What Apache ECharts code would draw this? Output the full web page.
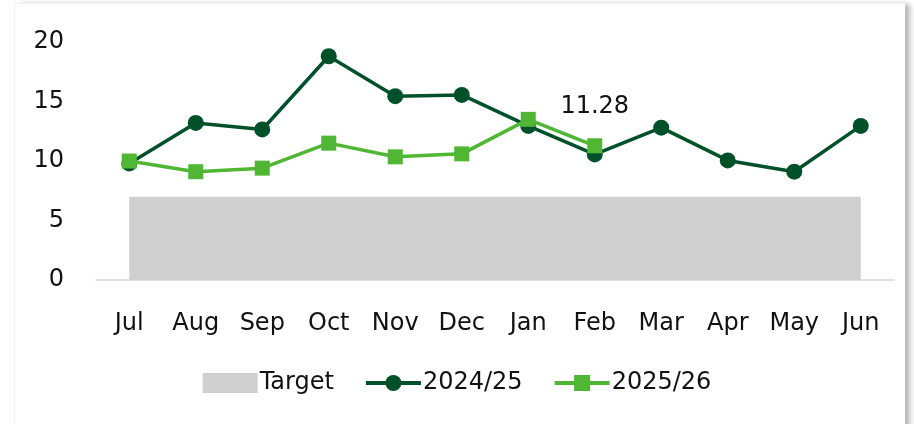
<!DOCTYPE html>
<html>
<head>
<meta charset="utf-8">
<script src="https://cdn.jsdelivr.net/npm/echarts@6/dist/echarts.min.js"></script>
<style>
  html, body { margin: 0; padding: 0; background: #fff; overflow: hidden; }
  .card {
    position: absolute; left: 14px; top: 3px; width: 890px; height: 440px;
    background: #fff; border-left: 1px solid #f2f2f2; border-top: 1px solid #f2f2f2;
    box-shadow: 6px 0 5px -1px rgba(0, 0, 0, 0.28);
  }
  #chart { position: absolute; left: 0; top: 0; width: 914px; height: 424px; }
</style>
</head>
<body>
<div class="card"></div>
<div id="chart"></div>
<script>
const months = ['Jul', 'Aug', 'Sep', 'Oct', 'Nov', 'Dec', 'Jan', 'Feb', 'Mar', 'Apr', 'May', 'Jun']
const target = [7, 7, 7, 7, 7, 7, 7, 7, 7, 7, 7, 7]
const fy2425 = [9.8, 13.2, 12.65, 18.8, 15.45, 15.55, 12.95, 10.55, 12.8, 10.05, 9.1, 12.95]
const fy2526 = [10.0, 9.1, 9.4, 11.5, 10.35, 10.6, 13.5, 11.28]

const font = '"DejaVu Sans", sans-serif'
const dark = '#00512A'
const light = '#4FB733'
const grey = '#D0CED0'

const chart = echarts.init(document.getElementById('chart'))

chart.setOption({
  animation: false,
  textStyle: { fontFamily: font },
  grid: { left: 96, right: 20, top: 42, bottom: 144 },
  legend: {
    bottom: 24,
    left: 'center',
    itemWidth: 55,
    itemHeight: 20,
    itemGap: 30,
    lineStyle: { width: 4 },
    textStyle: { fontFamily: font, fontSize: 24, color: '#111', padding: [0, 0, 0, -3] },
    data: [
      { name: 'Target', icon: 'rect', itemStyle: { color: grey } },
      { name: '2024/25' },
      { name: '2025/26' }
    ]
  },
  xAxis: {
    type: 'category',
    data: months,
    axisLine: { lineStyle: { color: '#D9D9D9', width: 1.5 } },
    axisTick: { show: false },
    axisLabel: { fontFamily: font, fontSize: 24, color: '#111', margin: 32 }
  },
  yAxis: {
    type: 'value',
    min: 0,
    max: 20,
    interval: 5,
    splitLine: { show: false },
    axisLine: { show: false },
    axisTick: { show: false },
    axisLabel: { fontFamily: font, fontSize: 24, color: '#111', margin: 32 }
  },
  series: [
    {
      name: 'Target',
      type: 'line',
      data: target,
      color: grey,
      symbol: 'none',
      lineStyle: { width: 0 },
      areaStyle: { color: grey, opacity: 1 },
      z: 1
    },
    {
      name: '2024/25',
      type: 'line',
      data: fy2425,
      color: dark,
      symbol: 'circle',
      symbolSize: 16,
      lineStyle: { width: 3.5, color: dark },
      itemStyle: { color: dark },
      z: 3
    },
    {
      name: '2025/26',
      type: 'line',
      data: fy2526.map((v, i) => i === fy2526.length - 1
        ? { value: v, label: { show: true, position: 'top', distance: 20, formatter: '{c}', fontFamily: font, fontSize: 24, color: '#111' } }
        : v),
      color: light,
      symbol: 'rect',
      symbolSize: 15,
      lineStyle: { width: 3.5, color: light },
      itemStyle: { color: light },
      z: 4
    }
  ]
})
</script>
</body>
</html>
